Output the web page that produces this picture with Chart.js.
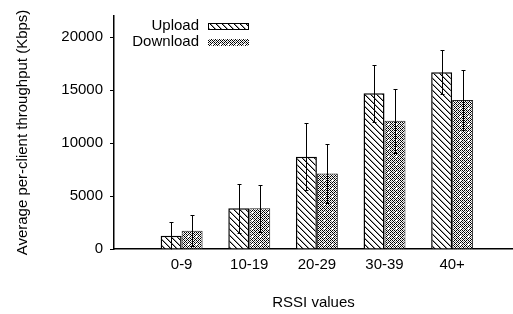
<!DOCTYPE html>
<html>
<head>
<meta charset="utf-8">
<script src="https://cdn.jsdelivr.net/npm/chart.js@4/dist/chart.umd.min.js"></script>
<style>
  html, body { margin: 0; padding: 0; background: #fff; }
  canvas { display: block; }
</style>
</head>
<body>
<canvas id="chart" width="513" height="314"></canvas>
<script>
// RSSI bins and per-client throughput (Kbps)
const categories = ['0-9', '10-19', '20-29', '30-39', '40+'];
const uploadValues = [1250, 3850, 8700, 14700, 16700];
const uploadErrors = [1330, 2300, 3150, 2700, 2080];
const downloadValues = [1730, 3850, 7130, 12100, 14060];
const downloadErrors = [1470, 2200, 2800, 3000, 2800];
const yTicks = [0, 5000, 10000, 15000, 20000];

const FONT = 'Liberation Sans, Arial, Helvetica, sans-serif';
const FSIZE = 15;

// Build a fill pattern from a small pixel tile
function makePattern(ctx, rows, grey) {
    const n = rows.length;
    const tile = document.createElement('canvas');
    tile.width = rows[0].length;
    tile.height = n;
    const tctx = tile.getContext('2d');
    tctx.fillStyle = '#fff';
    tctx.fillRect(0, 0, tile.width, tile.height);
    for (let y = 0; y < n; y++) {
        for (let x = 0; x < rows[y].length; x++) {
            const c = rows[y][x];
            if (c === '#') { tctx.fillStyle = '#000'; tctx.fillRect(x, y, 1, 1); }
            else if (c === '+') { tctx.fillStyle = grey; tctx.fillRect(x, y, 1, 1); }
        }
    }
    return ctx.createPattern(tile, 'repeat');
}

const canvas = document.getElementById('chart');
const ctx = canvas.getContext('2d');

// diagonal "\\" hatch for Upload
const hatch = makePattern(ctx, [
    '#+....',
    '.#+...',
    '..#+..',
    '...#+.',
    '....#+',
    '+....#'
], '#999');

// dense dotted texture for Download
const dots = makePattern(ctx, [
    '#.#.#.#.',
    '.#.+.#.+',
    '#.#.#.#.',
    '.+.#.+.#',
    '#.#...#.',
    '.#.+.#.+',
    '#.#.#.#.',
    '.+.#.+.#'
], '#888');

// error bars drawn through the chart's own scales
const errorBars = {
    id: 'errorBars',
    afterDatasetsDraw(chart) {
        const c = chart.ctx;
        const yScale = chart.scales.y;
        c.save();
        c.strokeStyle = '#000';
        c.lineWidth = 1;
        chart.data.datasets.forEach((ds, di) => {
            const meta = chart.getDatasetMeta(di);
            meta.data.forEach((bar, i) => {
                const v = ds.data[i].y;
                const e = ds.errors[i];
                const x = Math.round(bar.x) + 0.5;
                const top = Math.round(yScale.getPixelForValue(v + e)) + 0.5;
                const bot = Math.round(yScale.getPixelForValue(Math.max(0, v - e))) + 0.5;
                c.beginPath();
                c.moveTo(x, top);
                c.lineTo(x, bot);
                c.moveTo(x - 2, top);
                c.lineTo(x + 2, top);
                if (v - e > 0) {
                    c.moveTo(x - 2, bot);
                    c.lineTo(x + 2, bot);
                }
                c.stroke();
            });
        });
        c.restore();
    }
};

// gnuplot style key: label on the left, swatch on the right
const keyBox = {
    id: 'keyBox',
    afterDraw(chart) {
        const c = chart.ctx;
        c.save();
        c.font = FSIZE + 'px ' + FONT;
        c.fillStyle = '#000';
        c.textAlign = 'right';
        c.textBaseline = 'middle';
        chart.data.datasets.forEach((ds, i) => {
            const yMid = 26 + i * 16;
            c.fillText(ds.label, 199, yMid);
            c.fillStyle = ds.backgroundColor;
            c.fillRect(208, yMid - 3, 41, 7);
            c.strokeStyle = '#000';
            c.lineWidth = 1;
            if (i === 0) c.strokeRect(208.5, yMid - 2.5, 40, 6);
            c.fillStyle = '#000';
        });
        c.restore();
    }
};

const toPoints = vals => vals.map((v, i) => ({ x: i + 1, y: v }));

new Chart(canvas, {
    type: 'bar',
    data: {
        datasets: [
            {
                label: 'Upload',
                data: toPoints(uploadValues),
                errors: uploadErrors,
                backgroundColor: hatch,
                borderColor: '#000',
                borderWidth: 1.5
            },
            {
                label: 'Download',
                data: toPoints(downloadValues),
                errors: downloadErrors,
                backgroundColor: dots,
                borderColor: '#222',
                borderWidth: 1
            }
        ]
    },
    options: {
        responsive: false,
        animation: false,
        events: [],
        layout: { padding: { top: 16, left: 0, right: 0, bottom: 0 } },
        datasets: {
            bar: { categoryPercentage: 0.62, barPercentage: 1 }
        },
        plugins: {
            legend: { display: false },
            tooltip: { enabled: false }
        },
        scales: {
            x: {
                type: 'linear',
                offset: false,
                min: 0,
                max: 5.9,
                afterBuildTicks: s => { s.ticks = [0].concat(categories.map((c, i) => i + 1)).map(v => ({ value: v })); },
                afterFit: s => { s.height = 65; },
                grid: { display: false, drawTicks: false, offset: false },
                border: { display: true, color: '#000', width: 1.5 },
                ticks: {
                    padding: 7,
                    color: '#000',
                    font: { family: FONT, size: FSIZE },
                    callback: v => categories[v - 1] || ''
                },
                title: {
                    display: true,
                    text: 'RSSI values',
                    color: '#000',
                    font: { family: FONT, size: FSIZE },
                    padding: { top: 0, bottom: 2 }
                }
            },
            y: {
                min: 0,
                max: 22000,
                afterBuildTicks: s => { s.ticks = yTicks.map(v => ({ value: v })); },
                afterFit: s => { s.width = 114; },
                grid: { drawOnChartArea: false, drawTicks: true, tickLength: 4, color: '#000' },
                border: { display: true, color: '#000', width: 1.5 },
                ticks: {
                    padding: 7,
                    color: '#000',
                    font: { family: FONT, size: FSIZE },
                    callback: v => String(v)
                },
                title: {
                    display: true,
                    text: 'Average per-client throughput (Kbps)',
                    color: '#000',
                    font: { family: FONT, size: FSIZE },
                    padding: { top: 14, bottom: 0 }
                }
            }
        }
    },
    plugins: [errorBars, keyBox]
});
</script>
</body>
</html>
